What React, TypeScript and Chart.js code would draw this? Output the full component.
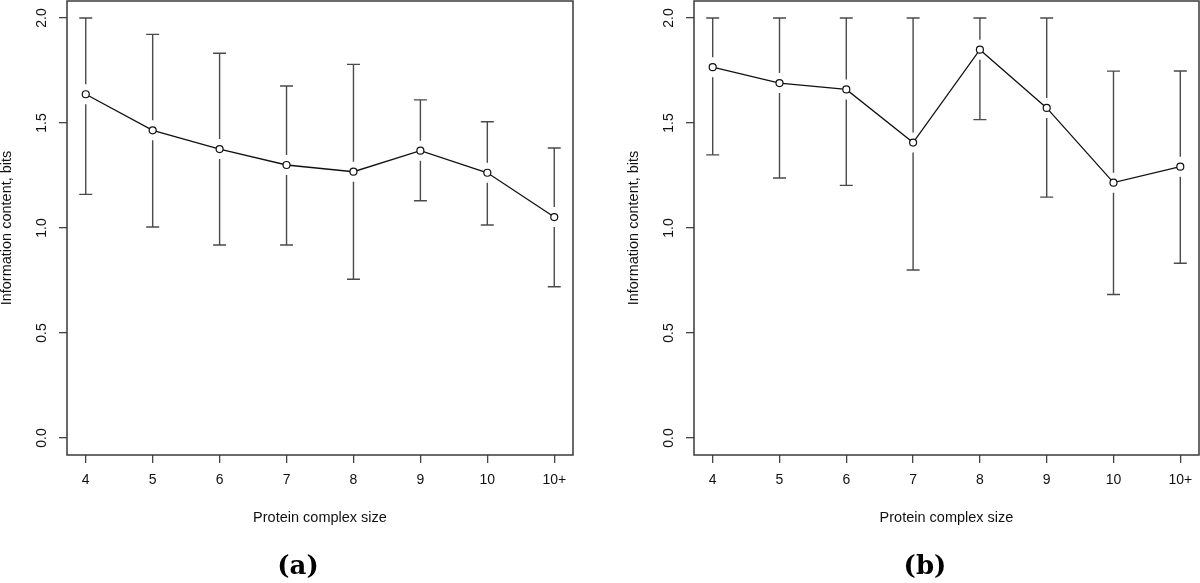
import React, { useEffect, useRef } from "react";
import { Chart, registerables } from "chart.js";

Chart.register(...registerables);

const categories = ["4", "5", "6", "7", "8", "9", "10", "10+"];

const meanA = [1.637, 1.465, 1.376, 1.3, 1.268, 1.368, 1.263, 1.052];
const lowA = [1.16, 1.005, 0.919, 0.919, 0.756, 1.13, 1.014, 0.72];
const highA = [2.0, 1.922, 1.832, 1.676, 1.779, 1.61, 1.506, 1.381];

const meanB = [1.766, 1.69, 1.66, 1.407, 1.849, 1.572, 1.216, 1.292];
const lowB = [1.348, 1.238, 1.203, 0.8, 1.516, 1.147, 0.683, 0.832];
const highB = [2.0, 2.0, 2.0, 2.0, 2.0, 2.0, 1.747, 1.748];

const yTicks = [0, 0.5, 1.0, 1.5, 2.0];
const yLabel = "Information content, bits";
const xLabel = "Protein complex size";
const panelLabels = ["(a)", "(b)"];

const FONT = "'Liberation Sans', Arial, Helvetica, sans-serif";

function makeErrorBars(low: number[], high: number[]) {
  return {
    id: "errorBars",
    beforeDatasetsDraw(chart: any) {
      const { ctx } = chart;
      const xs = chart.scales.x;
      const ys = chart.scales.y;
      const gap = 10;
      const cap = 6.5;
      ctx.save();
      ctx.strokeStyle = "#4a4a4a";
      ctx.lineWidth = 1.4;
      chart.data.datasets[0].data.forEach((pt: any, i: number) => {
        const px = xs.getPixelForValue(pt.x);
        const py = ys.getPixelForValue(pt.y);
        const pl = ys.getPixelForValue(low[i]);
        const ph = ys.getPixelForValue(high[i]);
        ctx.beginPath();
        if (py - ph > gap) {
          ctx.moveTo(px, ph);
          ctx.lineTo(px, py - gap);
        }
        if (pl - py > gap) {
          ctx.moveTo(px, py + gap);
          ctx.lineTo(px, pl);
        }
        ctx.moveTo(px - cap, ph);
        ctx.lineTo(px + cap, ph);
        ctx.moveTo(px - cap, pl);
        ctx.lineTo(px + cap, pl);
        ctx.stroke();
      });
      ctx.restore();
    },
  };
}

const boxPlugin = {
  id: "plotBox",
  afterDatasetsDraw(chart: any) {
    const { ctx, chartArea } = chart;
    ctx.save();
    ctx.strokeStyle = "#3a3a3a";
    ctx.lineWidth = 1.5;
    ctx.strokeRect(
      chartArea.left,
      chartArea.top,
      chartArea.right - chartArea.left,
      chartArea.bottom - chartArea.top
    );
    ctx.restore();
  },
};

function Panel(props: {
  mean: number[];
  low: number[];
  high: number[];
  left: number;
  width: number;
  padRight: number;
}) {
  const ref = useRef<HTMLCanvasElement>(null);
  useEffect(() => {
    if (!ref.current) return;
    const chart = new Chart(ref.current, {
      type: "line",
      data: {
        datasets: [
          {
            data: props.mean.map((v, i) => ({ x: i + 1, y: v })),
            borderColor: "#111",
            borderWidth: 1.3,
            pointRadius: 3.5,
            pointBorderWidth: 1.2,
            pointBorderColor: "#111",
            pointBackgroundColor: "#fff",
            tension: 0,
          },
        ],
      },
      options: {
        responsive: false,
        animation: false,
        events: [],
        layout: {
          autoPadding: false,
          padding: { top: 1, right: props.padRight, left: 0, bottom: 0 },
        },
        plugins: {
          legend: { display: false },
          tooltip: { enabled: false },
        },
        scales: {
          x: {
            type: "linear",
            min: 0.72,
            max: 8.28,
            afterBuildTicks: (s: any) => {
              s.ticks = categories.map((_, i) => ({ value: i + 1 }));
            },
            afterFit: (s: any) => {
              s.height = 128;
              s.paddingLeft = 0;
              s.paddingRight = 0;
              s.paddingTop = 0;
              s.paddingBottom = 0;
            },
            ticks: {
              callback: (v: any) => categories[Math.round(Number(v)) - 1] ?? "",
              color: "#111",
              font: { family: FONT, size: 14 },
              padding: 9,
              maxRotation: 0,
              minRotation: 0,
            },
            grid: {
              display: true,
              drawOnChartArea: false,
              drawTicks: true,
              tickLength: 8,
              color: "#444",
              lineWidth: 1.3,
            },
            border: { display: false },
            title: {
              display: true,
              text: xLabel,
              color: "#111",
              font: { family: FONT, size: 14.5, lineHeight: 1 },
              padding: { top: 0, bottom: 58 },
            },
          },
          y: {
            type: "linear",
            min: -0.081,
            max: 2.081,
            afterBuildTicks: (s: any) => {
              s.ticks = yTicks.map((v) => ({ value: v }));
            },
            afterFit: (s: any) => {
              s.width = 67;
              s.paddingTop = 0;
              s.paddingBottom = 0;
              s.paddingLeft = 0;
              s.paddingRight = 0;
            },
            ticks: {
              callback: (v: any) => Number(v).toFixed(1),
              color: "#111",
              font: { family: FONT, size: 14 },
              padding: 7,
              minRotation: 90,
              maxRotation: 90,
              crossAlign: "center",
            },
            grid: {
              display: true,
              drawOnChartArea: false,
              drawTicks: true,
              tickLength: 8,
              color: "#444",
              lineWidth: 1.3,
            },
            border: { display: false },
            title: {
              display: true,
              text: yLabel,
              color: "#111",
              font: { family: FONT, size: 14.5, lineHeight: 1 },
              padding: { top: 0, bottom: 0 },
            },
          },
        },
      } as any,
      plugins: [makeErrorBars(props.low, props.high), boxPlugin],
    });
    return () => chart.destroy();
  }, []);
  return (
    <canvas
      ref={ref}
      width={props.width}
      height={583}
      style={{ position: "absolute", left: props.left, top: 0, width: props.width, height: 583 }}
    />
  );
}

export default function App() {
  const labelStyle = (cx: number): React.CSSProperties => ({
    position: "absolute",
    left: cx - 50,
    width: 100,
    top: 550,
    height: 30,
    lineHeight: "30px",
    textAlign: "center",
    fontFamily: "'DejaVu Serif', 'Liberation Serif', serif",
    fontWeight: "bold",
    fontSize: 26,
    color: "#000",
  });
  return (
    <div
      style={{
        position: "absolute",
        left: 0,
        top: 0,
        width: 1200,
        height: 583,
        background: "#fff",
        overflow: "hidden",
      }}
    >
      <Panel mean={meanA} low={lowA} high={highA} left={0} width={600} padRight={27} />
      <Panel mean={meanB} low={lowB} high={highB} left={627} width={573} padRight={1} />
      <div style={labelStyle(298)}>{panelLabels[0]}</div>
      <div style={labelStyle(925)}>{panelLabels[1]}</div>
    </div>
  );
}
